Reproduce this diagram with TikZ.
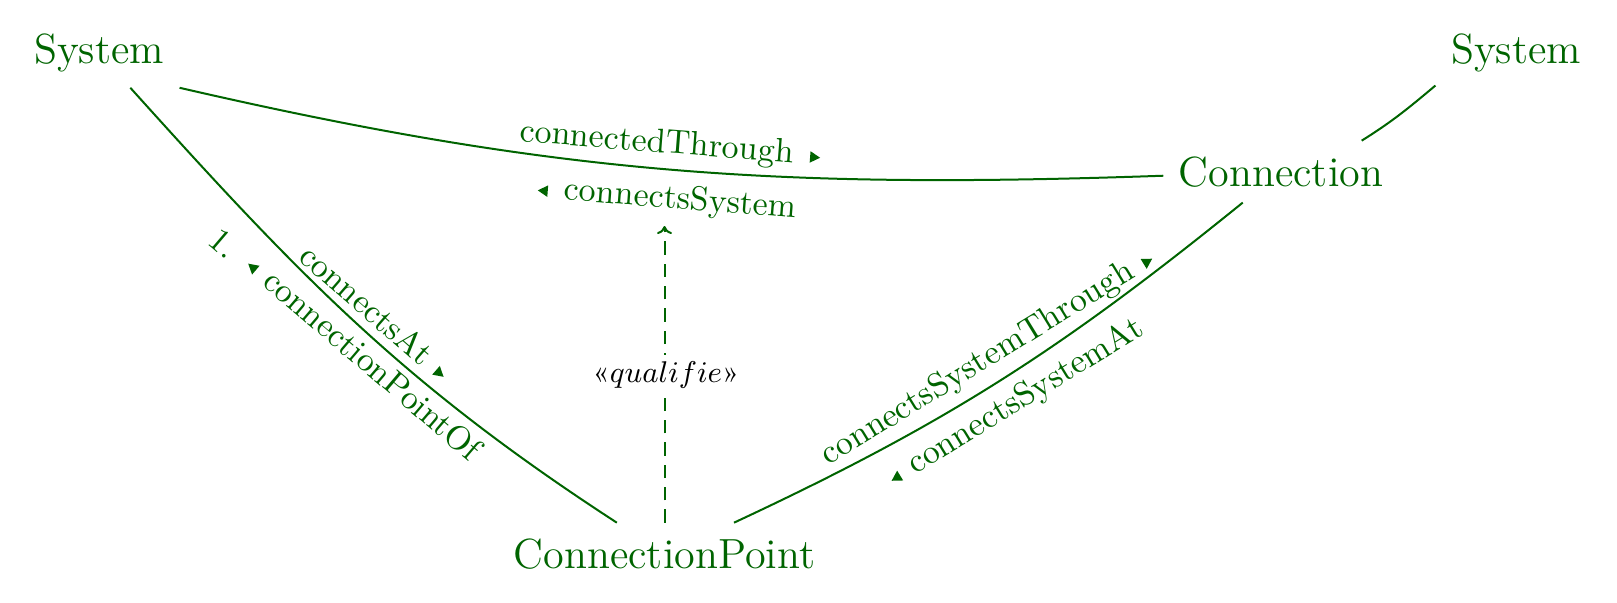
\documentclass[tikz,border=0pt]{standalone}
\usetikzlibrary{arrows.meta}
\definecolor{cgreen}{RGB}{0,100,0}
\newcommand{\trR}{\tikz[baseline={(0pt,-2.2pt)}]\fill[cgreen] (0:2pt)--(120:2pt)--(240:2pt)--cycle;}
\newcommand{\trL}{\tikz[baseline={(0pt,-2.2pt)}]\fill[cgreen] (180:2pt)--(300:2pt)--(60:2pt)--cycle;}
\begin{document}
\begin{tikzpicture}[x=0.3pt,y=0.3pt,
  cls/.style={text=cgreen, font=\fontsize{12.65}{15}\selectfont, inner sep=4.5pt, anchor=base},
  rel/.style={draw=cgreen, semithick},
  lab/.style={text=cgreen, inner sep=0pt, font=\fontsize{10.15}{12}\selectfont},
  qlab/.style={fill=white, inner sep=2pt, font=\small, anchor=base, text=black}]
\useasboundingbox (0,0) rectangle (1617,-602);
\node[cls] (sysL) at (99,-63.5) {System};
\node[cls] (sysR) at (1516,-63.5) {System};
\node[cls] (conn) at (1281,-186) {Connection};
\node[cls] (cp) at (664.5,-568) {ConnectionPoint};
\coordinate (qt) at (664.5,-226);

\draw[rel] (sysL.south east) to[out=-13,in=182] (conn.182);
\draw[rel] (sysL.-48) to[out=-48,in=147] (cp.147);
\draw[rel] (cp.24) to[out=25,in=219] (conn.219);
\draw[rel] (conn.21) to[out=32,in=220] (sysR.202);
\draw[rel, dash pattern=on 4pt off 2.7pt, -{To[length=2.4pt,width=4.5pt]}] (cp) -- (qt);

\node[lab, rotate=-4.5] (l1) at (670,-145) {connectedThrough\hspace{5pt}\trR};
\node[lab, rotate=-4.5] (l2) at (667,-199.4) {\trL\hspace{5pt}connectsSystem};
\node[lab, rotate=-41] (l3) at (376,-312) {connectsAt\hspace{4pt}\trR};
\node[lab, rotate=-40.5] (l4) at (364,-357) {\trL\hspace{4pt}connectionPointOf};
\node[lab, rotate=-40.5] (l5) at (224,-243) {1.};
\node[lab, rotate=31.5] (l6) at (988,-358) {connectsSystemThrough\hspace{4pt}\trR};
\node[lab, rotate=31.5] (l7) at (1016,-403) {\trL\hspace{4pt}connectsSystemAt};
\node[qlab] (q) at (666,-382) {«$qualifie$»};
\end{tikzpicture}
\end{document}
